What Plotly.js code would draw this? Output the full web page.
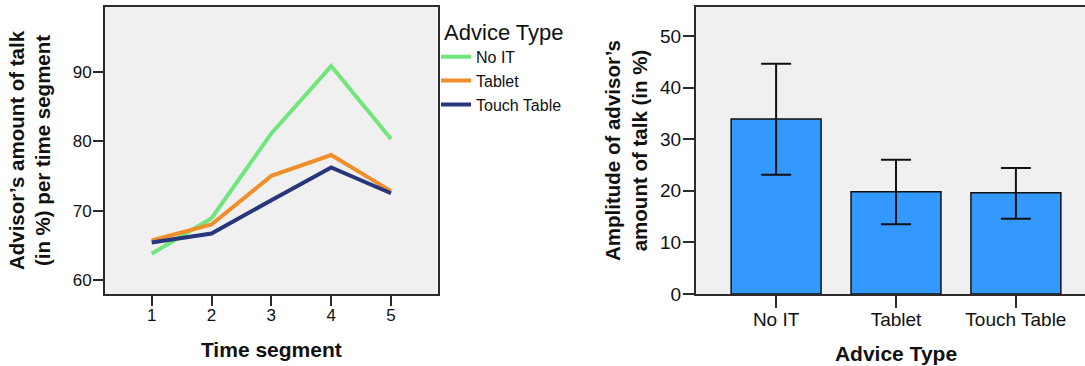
<!DOCTYPE html>
<html>
<head>
<meta charset="utf-8">
<script src="https://cdn.plot.ly/plotly-3.0.1.min.js"></script>
<style>
html,body{margin:0;padding:0;overflow:hidden;background:#fff;}
#chart{width:1096px;height:366px;}
</style>
</head>
<body>
<div id="chart"></div>
<script>
// Left chart: line plot
const segments = [1, 2, 3, 4, 5];
const noIT = [63.8, 68.9, 81.1, 90.8, 80.3];
const tablet = [65.7, 68.0, 75.0, 78.0, 72.8];
const touchTable = [65.4, 66.7, 71.5, 76.2, 72.5];
const seriesNames = ['No IT', 'Tablet', 'Touch Table'];

// Right chart: bar plot with error bars
const adviceTypes = ['No IT', 'Tablet', 'Touch Table'];
const amplitude = [33.9, 19.8, 19.6];
const ciUpper = [44.6, 26.0, 24.4];
const ciLower = [23.1, 13.5, 14.6];

const W = 1096;
const font = 'Liberation Sans, Arial, Helvetica, sans-serif';
const axisColor = '#2b2b2b';

const traces = [
  {x: segments, y: noIT, name: seriesNames[0], type: 'scatter', mode: 'lines',
   line: {color: '#72e67c', width: 4}, xaxis: 'x', yaxis: 'y'},
  {x: segments, y: tablet, name: seriesNames[1], type: 'scatter', mode: 'lines',
   line: {color: '#ef8f2c', width: 4}, xaxis: 'x', yaxis: 'y'},
  {x: segments, y: touchTable, name: seriesNames[2], type: 'scatter', mode: 'lines',
   line: {color: '#28367c', width: 4}, xaxis: 'x', yaxis: 'y'},
  {x: adviceTypes, y: amplitude, type: 'bar', showlegend: false, width: 0.75,
   marker: {color: '#3399ff', line: {color: '#111', width: 1.5}},
   error_y: {type: 'data', symmetric: false,
     array: amplitude.map((v, i) => ciUpper[i] - v),
     arrayminus: amplitude.map((v, i) => v - ciLower[i]),
     color: '#111', thickness: 2, width: 15},
   xaxis: 'x2', yaxis: 'y2'}
];

const layout = {
  width: W, height: 366,
  margin: {l: 0, r: 0, t: 7, b: 72},
  paper_bgcolor: '#ffffff',
  plot_bgcolor: '#f0f0f0',
  font: {family: font, color: '#111'},
  showlegend: true,
  legend: {
    x: 436 / W, xanchor: 'left', y: 0.985, yanchor: 'top',
    title: {text: '\u00a0Advice Type', font: {size: 22, color: '#111'}},
    font: {size: 16, color: '#111'},
    bgcolor: 'rgba(0,0,0,0)',
    tracegroupgap: 0
  },
  xaxis: {
    domain: [105 / W, 437.7 / W],
    range: [0.22, 5.78],
    tickvals: segments,
    ticks: 'outside', ticklen: 10, tickwidth: 2, tickcolor: axisColor,
    showline: true, linecolor: axisColor, linewidth: 2, mirror: true,
    showgrid: false, zeroline: false,
    tickfont: {size: 17},
    ticklabelstandoff: -5,
    title: {text: '<b>Time segment</b>', font: {size: 21}, standoff: 18}
  },
  yaxis: {
    domain: [0, 1],
    range: [58.0, 99.3],
    tickvals: [60, 70, 80, 90],
    ticks: 'outside', ticklen: 10, tickwidth: 2, tickcolor: axisColor,
    showline: true, linecolor: axisColor, linewidth: 2, mirror: true,
    showgrid: false, zeroline: false,
    tickfont: {size: 17},
    ticklabelstandoff: -2,
    title: {text: '<b>Advisor’s amount of talk<br>(in %) per time segment</b>', font: {size: 20.5}, standoff: 16}
  },
  xaxis2: {
    domain: [696 / W, 1],
    range: [-0.668, 2.668],
    anchor: 'y2',
    ticks: 'outside', ticklen: 12, tickwidth: 2, tickcolor: axisColor,
    showline: true, linecolor: axisColor, linewidth: 2, mirror: true,
    showgrid: false, zeroline: false,
    tickfont: {size: 19},
    ticklabelstandoff: -5,
    title: {text: '<b>Advice Type</b>', font: {size: 21}, standoff: 18}
  },
  yaxis2: {
    domain: [0, 1],
    anchor: 'x2',
    range: [0, 55.6],
    tickvals: [0, 10, 20, 30, 40, 50],
    ticks: 'outside', ticklen: 11, tickwidth: 2, tickcolor: axisColor,
    showline: true, linecolor: axisColor, linewidth: 2, mirror: false,
    showgrid: false, zeroline: false,
    tickfont: {size: 19},
    ticklabelstandoff: -2,
    title: {text: '<b>Amplitude of advisor’s<br>amount of talk (in %)</b>', font: {size: 20.5}, standoff: 7}
  }
};

Plotly.newPlot('chart', traces, layout, {displayModeBar: false, staticPlot: true});
</script>
</body>
</html>
